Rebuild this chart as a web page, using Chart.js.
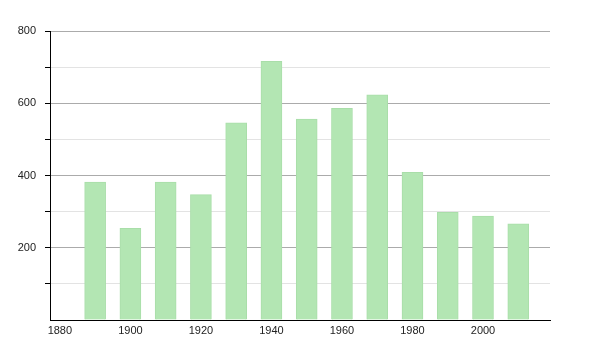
<!DOCTYPE html>
<html>
<head>
<meta charset="utf-8">
<script src="https://cdn.jsdelivr.net/npm/chart.js@4"></script>
<style>
html,body{margin:0;padding:0;background:#fff;}
#wrap{width:600px;height:350px;position:relative;}
</style>
</head>
<body>
<div id="wrap"><canvas id="c" width="600" height="350"></canvas></div>
<script>
const years = [1890, 1900, 1910, 1920, 1930, 1940, 1950, 1960, 1970, 1980, 1990, 2000, 2010];
const population = [382, 254, 382, 347, 546, 716, 556, 586, 623, 409, 298, 288, 266];
const xTickLabels = [1880, 1900, 1920, 1940, 1960, 1980, 2000];
const yTickLabels = [200, 400, 600, 800];

const pts = years.map((y, i) => ({x: y, y: population[i]}));

new Chart(document.getElementById('c'), {
  type: 'bar',
  data: {
    datasets: [{
      data: pts,
      backgroundColor: '#b3e6b3',
      borderColor: '#a9dea9',
      borderWidth: 1,
      barThickness: 21
    }]
  },
  options: {
    responsive: false,
    animation: false,
    devicePixelRatio: 1,
    layout: {padding: {top: 31, right: 50, left: 0, bottom: 0}},
    plugins: {legend: {display: false}, tooltip: {enabled: false}},
    scales: {
      x: {
        type: 'linear',
        offset: false,
        min: 1877.2,
        max: 2019,
        afterBuildTicks: s => { s.ticks = xTickLabels.map(v => ({value: v})); },
        afterFit: s => { s.height = 30; },
        grid: {display: false, drawTicks: false, offset: false},
        border: {display: true, color: '#000', width: 1},
        ticks: {
          padding: 4,
          maxRotation: 0,
          autoSkip: false,
          color: '#222',
          font: {family: 'Liberation Sans, Arial, sans-serif', size: 11},
          callback: v => String(v)
        }
      },
      y: {
        min: 0,
        max: 800,
        afterFit: s => { s.width = 50; },
        ticks: {
          stepSize: 100,
          padding: 9,
          color: '#222',
          font: {family: 'Liberation Sans, Arial, sans-serif', size: 11},
          callback: v => (yTickLabels.includes(v) ? String(v) : '')
        },
        grid: {
          drawTicks: true,
          tickLength: 5,
          tickColor: ctx => (ctx.tick && ctx.tick.value === 0 ? 'rgba(0,0,0,0)' : '#000'),
          color: ctx => {
            const v = ctx.tick ? ctx.tick.value : 0;
            if (v === 0) return 'rgba(0,0,0,0)';
            return v % 200 === 0 ? '#ababab' : '#e3e3e3';
          },
          lineWidth: 1
        },
        border: {display: true, color: '#000', width: 1}
      }
    }
  }
});
</script>
</body>
</html>
